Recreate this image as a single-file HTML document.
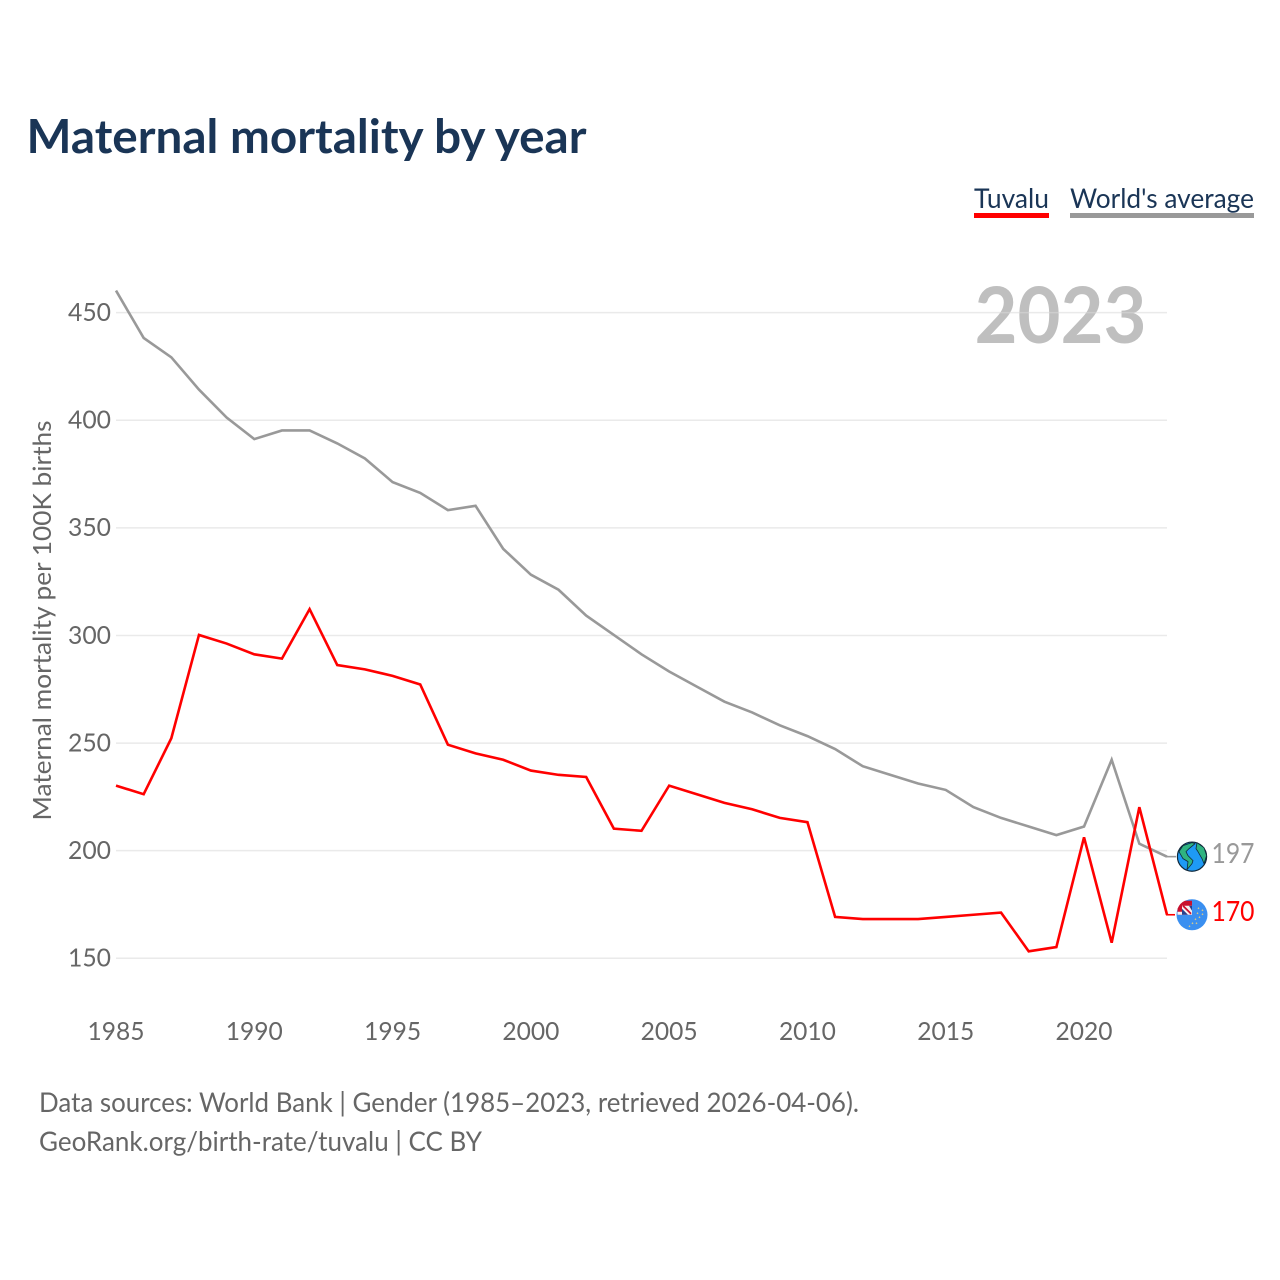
<!DOCTYPE html>
<html>
<head>
<meta charset="utf-8">
<title>Maternal mortality by year</title>
<style>
html,body{margin:0;padding:0;background:#fff;}
svg{display:block;}
text{font-family:"Lato","Carlito","Liberation Sans",sans-serif;}
</style>
</head>
<body>
<svg id="chart" width="1280" height="1280" viewBox="0 0 1280 1280" xmlns="http://www.w3.org/2000/svg">
  <rect width="1280" height="1280" fill="#fff"/>
  <text x="26.5" y="153" font-size="47" font-weight="700" fill="#1a3556" textLength="560" lengthAdjust="spacingAndGlyphs">Maternal mortality by year</text>
  <g id="legend">
    <text x="974" y="208" font-size="27" fill="#1a3556" textLength="75" lengthAdjust="spacingAndGlyphs">Tuvalu</text>
    <rect x="974" y="213" width="75" height="5" fill="#ff0000"/>
    <text x="1070" y="208" font-size="27" fill="#1a3556" textLength="184" lengthAdjust="spacingAndGlyphs">World's average</text>
    <rect x="1070" y="213" width="184" height="5" fill="#999999"/>
  </g>
  <text x="974.5" y="343" font-size="78" font-weight="700" fill="#bfbfbf" textLength="172" lengthAdjust="spacingAndGlyphs">2023</text>
  <g id="grid"></g>
  <g id="y-ticks"></g>
  <g id="x-ticks"></g>
  <text transform="translate(51,820.5) rotate(-90)" font-size="25" fill="#666666" textLength="400" lengthAdjust="spacingAndGlyphs">Maternal mortality per 100K births</text>
  <g id="series"></g>
  <g id="ends"></g>
  <text x="39" y="1112" font-size="27" fill="#666666" textLength="820" lengthAdjust="spacingAndGlyphs">Data sources: World Bank | Gender (1985–2023, retrieved 2026-04-06).</text>
  <text x="39" y="1151" font-size="27" fill="#666666" textLength="443" lengthAdjust="spacingAndGlyphs">GeoRank.org/birth-rate/tuvalu | CC BY</text>
</svg>
<script>
const years = [1985,1986,1987,1988,1989,1990,1991,1992,1993,1994,1995,1996,1997,1998,1999,2000,2001,2002,2003,2004,2005,2006,2007,2008,2009,2010,2011,2012,2013,2014,2015,2016,2017,2018,2019,2020,2021,2022,2023];
const worldValues = [460,438,429,414,401,391,395,395,389,382,371,366,358,360,340,328,321,309,300,291,283,276,269,264,258,253,247,239,235,231,228,220,215,211,207,211,242,203,197];
const tuvaluValues = [230,226,252,300,296,291,289,312,286,284,281,277,249,245,242,237,235,234,210,209,230,226,222,219,215,213,169,168,168,168,169,170,171,153,155,206,157,220,170];
const yTicks = [150,200,250,300,350,400,450];
const xTicks = [1985,1990,1995,2000,2005,2010,2015,2020];

const NS = 'http://www.w3.org/2000/svg';
function xScale(year){ return 116 + (year - 1985) * (1167 - 116) / (2023 - 1985); }
function yScale(v){ return 958.3 - (v - 150) * (958.3 - 312.6) / (450 - 150); }
function yLine(v){ return yScale(v) - 0.5; }
function make(tag, attrs, parent, content){
  const el = document.createElementNS(NS, tag);
  for (const k in attrs) el.setAttribute(k, attrs[k]);
  if (content !== undefined) el.textContent = content;
  parent.appendChild(el);
  return el;
}

const gridG = document.getElementById('grid');
const yG = document.getElementById('y-ticks');
yTicks.forEach(function(t){
  const line = make('line', {x1:116, x2:1167, y1:yScale(t), y2:yScale(t), stroke:'#d8d8d8', 'stroke-opacity':0.55, 'stroke-width':1.5}, gridG);
  
  
  const label = make('text', {x:111, y:yScale(t) + 8.3, 'text-anchor':'end', 'font-size':25.5, fill:'#666666', textLength:43, lengthAdjust:'spacingAndGlyphs'}, yG, String(t));
  
  
});

const xG = document.getElementById('x-ticks');
xTicks.forEach(function(t){
  const label = make('text', {x:xScale(t), y:1040, 'text-anchor':'middle', 'font-size':25.5, fill:'#666666', textLength:57, lengthAdjust:'spacingAndGlyphs'}, xG, String(t));
  
  
});

function pathFor(values){
  return values.map(function(v, i){
    return (i ? 'L' : 'M') + xScale(years[i]).toFixed(2) + ' ' + yLine(v).toFixed(2);
  }).join(' ');
}

const seriesG = document.getElementById('series');
const worldLine = make('path', {d:pathFor(worldValues), fill:'none', stroke:'#999999', 'stroke-width':2.6, 'stroke-linejoin':'miter'}, seriesG);


const tuvaluLine = make('path', {d:pathFor(tuvaluValues), fill:'none', stroke:'#ff0000', 'stroke-width':2.6, 'stroke-linejoin':'miter'}, seriesG);



const endsG = document.getElementById('ends');
const lastWorld = worldValues[worldValues.length - 1];
const lastTuvalu = tuvaluValues[tuvaluValues.length - 1];
const endX = xScale(years[years.length - 1]);
const wy = yLine(lastWorld);
const ty = yLine(lastTuvalu);

const worldLeader = make('line', {x1:endX, x2:endX + 9, y1:wy, y2:wy, stroke:'#999999', 'stroke-width':1.6}, endsG);


const tuvaluLeader = make('line', {x1:endX - 1, x2:endX + 8, y1:ty, y2:ty, stroke:'#ff0000', 'stroke-width':1.6}, endsG);



// Globe icon
const globe = make('g', {transform:'translate(1192,' + wy + ')'}, endsG);


make('circle', {r:14.6, fill:'#1e9af5', stroke:'#10283a', 'stroke-width':1.2}, globe);
make('path', {d:'M-9 -11 L0 -14 L3 -13 L-3 -8 L-6 -5 L-4 -1 L1 4 L0 7 L-5 13 L-4 5 L-9 2 L-13 -5 Z', fill:'#2fb380', stroke:'#10283a', 'stroke-width':0.8, 'stroke-linejoin':'round'}, globe);
make('path', {d:'M5 -14 L12 -9 L14.6 -1 L12 7 L10 2 L6 -5 L4 -8 Z', fill:'#2fb380', stroke:'#10283a', 'stroke-width':0.8, 'stroke-linejoin':'round'}, globe);

// Tuvalu flag icon
const flag = make('g', {transform:'translate(1192,' + ty + ')'}, endsG);


make('circle', {r:15.5, fill:'#3a8ff0'}, flag);
make('path', {d:'M0 0 L-14.5 0 L-14.5 -6 Q-12 -12 -7 -14 L0 -14 Z', fill:'#c8102e'}, flag);
make('rect', {x:-10, y:-9, width:10, height:9, fill:'#f7f1f2'}, flag);
make('rect', {x:-14.5, y:-3, width:4.5, height:3, fill:'#f7f1f2'}, flag);
make('path', {d:'M-3 -9 L0 -9 L0 -4 Z M-10 -6 L-10 0 L-4 0 Z', fill:'#26418f'}, flag);
make('path', {d:'M-9 -9 L-1 -1', stroke:'#c8102e', 'stroke-width':1.8, fill:'none'}, flag);
make('path', {d:'M6 -7 l1 1 M10 -5 l1 1 M5 -2 l1 1 M10 -1 l1 1 M7 2 l1 1 M3 4 l1 1 M0 8 l1 1 M-3 11 l1 1 M4 8 l1 1', stroke:'#d9c98a', 'stroke-width':1.5, fill:'none'}, flag);

const worldValueLabel = make('text', {x:1211.5, y:wy + 6.2, 'font-size':28, fill:'#999999', textLength:43, lengthAdjust:'spacingAndGlyphs'}, endsG, String(lastWorld));


const tuvaluValueLabel = make('text', {x:1211.5, y:ty + 6.2, 'font-size':28, fill:'#ff0000', textLength:43, lengthAdjust:'spacingAndGlyphs'}, endsG, String(lastTuvalu));


</script>
</body>
</html>
